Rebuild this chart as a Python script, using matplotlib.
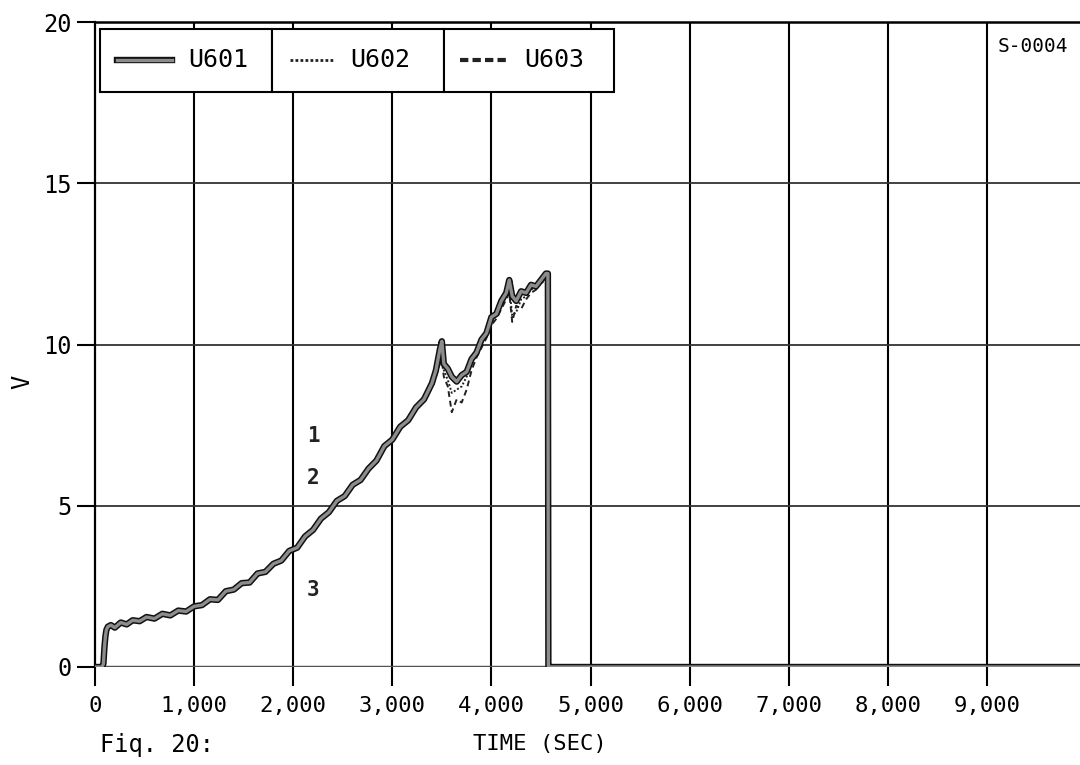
import matplotlib
matplotlib.use("Agg")
import matplotlib.pyplot as plt
import matplotlib.patheffects as pe
from matplotlib.patches import Rectangle
from matplotlib.lines import Line2D

# ---------------- data ----------------
time_s = [0, 70, 85, 95, 105, 115, 130, 160, 200, 260, 320, 380, 450, 520, 600, 680,
          760, 840, 920, 1000, 1080, 1160, 1240, 1320, 1400, 1480, 1560, 1640, 1720,
          1800, 1880, 1960, 2040, 2120, 2200, 2280, 2360, 2440, 2520, 2600, 2680, 2760,
          2840, 2920, 3000, 3080, 3160, 3240, 3320, 3400, 3440, 3480, 3500, 3520, 3560,
          3600, 3650, 3700, 3750, 3800, 3850, 3900, 3950, 4000, 4050, 4100, 4150, 4180,
          4210, 4250, 4300, 4350, 4400, 4450, 4500, 4550, 4570, 4575, 4600, 10000]

u601 = [0, 0, 0.1, 0.6, 0.95, 1.15, 1.25, 1.3, 1.22, 1.38, 1.32, 1.45, 1.42, 1.55, 1.5,
        1.65, 1.6, 1.75, 1.72, 1.88, 1.92, 2.1, 2.08, 2.35, 2.4, 2.6, 2.62, 2.9, 2.95,
        3.2, 3.3, 3.6, 3.7, 4.05, 4.25, 4.6, 4.8, 5.15, 5.3, 5.65, 5.8, 6.15, 6.4, 6.85,
        7.05, 7.45, 7.65, 8.05, 8.3, 8.8, 9.2, 9.85, 10.1, 9.4, 9.25, 9.0, 8.85, 9.05,
        9.15, 9.55, 9.75, 10.15, 10.35, 10.85, 10.95, 11.35, 11.6, 12.0, 11.5, 11.35,
        11.65, 11.6, 11.85, 11.8, 12.0, 12.2, 12.2, 0, 0, 0]

u602 = [0, 0, 0.05, 0.5, 0.9, 1.1, 1.2, 1.25, 1.28, 1.33, 1.37, 1.4, 1.46, 1.5, 1.55,
        1.6, 1.66, 1.7, 1.78, 1.85, 1.96, 2.05, 2.16, 2.3, 2.45, 2.56, 2.7, 2.85, 3.0,
        3.15, 3.35, 3.55, 3.75, 4.0, 4.3, 4.55, 4.85, 5.1, 5.35, 5.6, 5.85, 6.1, 6.45,
        6.8, 7.1, 7.4, 7.7, 8.0, 8.35, 8.7, 9.1, 9.6, 9.8, 9.2, 8.9, 8.5, 8.6, 8.7, 9.0,
        9.4, 9.7, 10.0, 10.3, 10.7, 10.9, 11.2, 11.5, 11.8, 10.9, 11.0, 11.4, 11.5, 11.7,
        11.8, 11.9, 12.1, 12.1, 0, 0, 0]

u603 = [0, 0, 0.05, 0.45, 0.85, 1.05, 1.18, 1.22, 1.26, 1.3, 1.35, 1.38, 1.44, 1.48,
        1.52, 1.58, 1.63, 1.68, 1.75, 1.82, 1.93, 2.02, 2.12, 2.27, 2.42, 2.53, 2.67,
        2.82, 2.97, 3.12, 3.32, 3.52, 3.72, 3.97, 4.27, 4.52, 4.82, 5.07, 5.32, 5.57,
        5.82, 6.07, 6.42, 6.77, 7.07, 7.37, 7.67, 7.97, 8.3, 8.65, 9.0, 9.4, 9.5, 9.0,
        8.7, 7.9, 8.3, 8.2, 8.6, 9.2, 9.6, 9.9, 10.2, 10.6, 10.8, 11.1, 11.4, 11.6, 10.7,
        11.2, 11.1, 11.4, 11.6, 11.7, 11.9, 12.0, 12.0, 0, 0, 0]

series_names = ["U601", "U602", "U603"]
x_ticks = [0, 1000, 2000, 3000, 4000, 5000, 6000, 7000, 8000, 9000]
x_ticklabels = ["0", "1,000", "2,000", "3,000", "4,000", "5,000", "6,000", "7,000",
                "8,000", "9,000"]
y_ticks = [0, 5, 10, 15, 20]
curve_labels = ["1", "2", "3"]
curve_label_x = [2200, 2200, 2200]
curve_label_y = [7.15, 5.85, 2.4]

# ---------------- figure ----------------
MONO = "DejaVu Sans Mono"
W, H = 1080, 765
fig = plt.figure(figsize=(W / 100, H / 100), dpi=100)
fig.patch.set_facecolor("white")

ax_left, ax_bottom = 95, 98
ax_w, ax_h = 991, 645
ax = fig.add_axes([ax_left / W, ax_bottom / H, ax_w / W, ax_h / H])
ax.set_xlim(0, 10000)
ax.set_ylim(0, 20)

band = [pe.Stroke(linewidth=4.6, foreground="#111111"),
        pe.Stroke(linewidth=2.4, foreground="#8c8c8c")]
ax.plot(time_s, u603, color="#222222", lw=1.4, ls=(0, (3, 2)), zorder=3)
ax.plot(time_s, u602, color="#222222", lw=1.4, ls=(0, (1, 1)), zorder=3)
ax.plot(time_s, u601, color="#8c8c8c", lw=2.4, zorder=4, path_effects=band)

# grid
ax.set_xticks(x_ticks)
ax.set_xticklabels(x_ticklabels, fontfamily=MONO, fontsize=16)
ax.set_yticks(y_ticks)
ax.set_yticklabels([str(v) for v in y_ticks], fontfamily=MONO, fontsize=17)
ax.tick_params(axis="x", direction="out", length=14, width=1.5, pad=7, colors="black")
ax.tick_params(axis="y", direction="out", length=13, width=1.5, pad=4, colors="black")
for xv in x_ticks[1:]:
    ax.axvline(xv, color="black", lw=1.5, zorder=2)
for yv in y_ticks[1:]:
    ax.axhline(yv, color="#333333", lw=1.3, zorder=2)
ax.axhline(0, color="#555555", lw=2.5, zorder=2)
for s in ["right", "bottom"]:
    ax.spines[s].set_visible(False)
ax.spines["left"].set_linewidth(1.6)
ax.spines["top"].set_linewidth(1.8)

# curve labels
for lab, lx, ly in zip(curve_labels, curve_label_x, curve_label_y):
    ax.text(lx, ly, lab, fontfamily=MONO, fontsize=15, fontweight="bold",
            ha="center", va="center", color="#222222", zorder=5)

# legend table
def px2ax(px, py):
    return (px - ax_left) / ax_w, ((H - ax_bottom) - py) / ax_h

cells = [(100, 272), (272, 444), (444, 614)]
y_top, y_bot = 29, 92
samples = [(117, 172), (290, 335), (460, 508)]
text_x = [188, 350, 524]
styles = [dict(color="#8c8c8c", lw=2.4, path_effects=band),
          dict(color="#222222", lw=2.0, ls=(0, (1, 0.8))),
          dict(color="#222222", lw=3.0, ls=(0, (2, 1)))]
for (cx0, cx1), (sx0, sx1), tx, st, name in zip(cells, samples, text_x, styles, series_names):
    x0, y0 = px2ax(cx0, y_bot)
    x1, y1 = px2ax(cx1, y_top)
    ax.add_patch(Rectangle((x0, y0), x1 - x0, y1 - y0, transform=ax.transAxes,
                           facecolor="white", edgecolor="black", lw=1.5, zorder=6))
    a0, ly = px2ax(sx0, 60)
    a1, _ = px2ax(sx1, 60)
    ax.add_line(Line2D([a0, a1], [ly, ly], transform=ax.transAxes, zorder=7, **st))
    txa, _ = px2ax(tx, 60)
    ax.text(txa, ly, name, transform=ax.transAxes, fontfamily=MONO, fontsize=18,
            ha="left", va="center", zorder=7)

# run id
sx, sy = px2ax(998, 47)
ax.text(sx, sy, "S-0004", transform=ax.transAxes, fontfamily=MONO, fontsize=14,
        ha="left", va="center")

# axis titles
fig.text(22 / W, 1 - 382 / H, "V", rotation=90, fontfamily=MONO, fontsize=17,
         ha="center", va="center")
fig.text(540 / W, 1 - 744 / H, "TIME (SEC)", fontfamily=MONO, fontsize=16,
         ha="center", va="center")
fig.text(100 / W, 1 - 745 / H, "Fiq. 20:", fontfamily=MONO, fontsize=17,
         ha="left", va="center")

fig.savefig("out.png", dpi=100, facecolor="white")
